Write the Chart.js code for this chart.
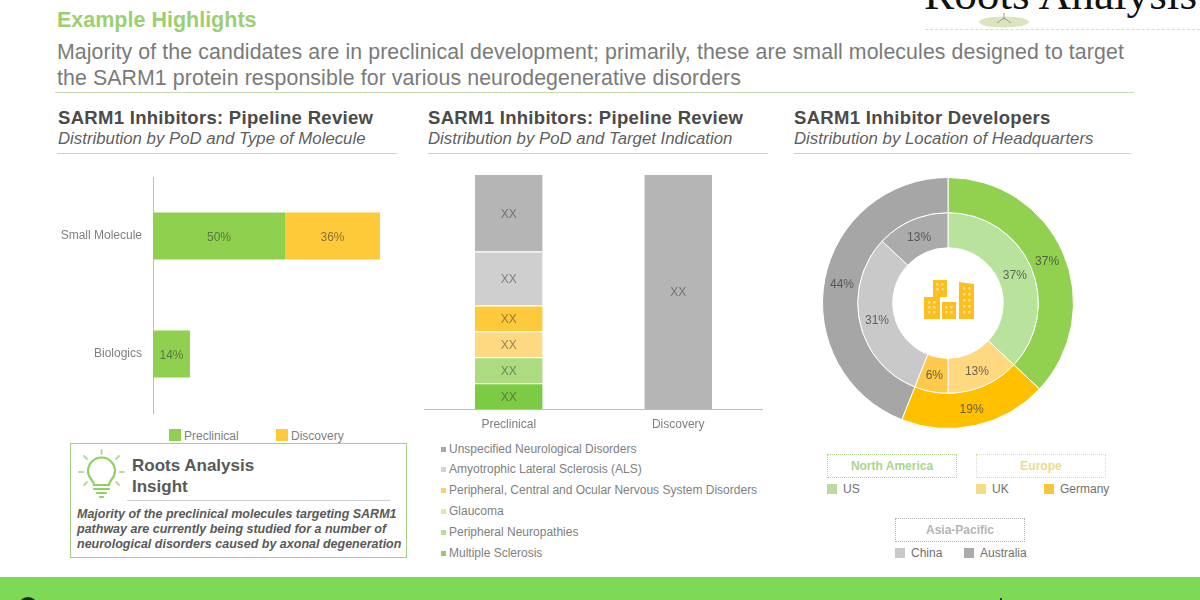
<!DOCTYPE html>
<html><head><meta charset="utf-8">
<script src="https://cdn.jsdelivr.net/npm/chart.js@4"></script>
<style>
html,body{margin:0;padding:0;background:#fff;overflow:hidden}
body{width:1200px;height:600px;position:relative;font-family:"Liberation Sans",Arial,sans-serif}
.t{position:absolute;white-space:nowrap;line-height:1}
canvas{position:absolute}
.rule{position:absolute;height:1px;background:#cfcfcf}
.sq{position:absolute}
.gbox{position:absolute;width:128px;height:22px;line-height:22px;text-align:center;font-weight:bold;font-size:12px;border:1px dotted}
svg{position:absolute}
.h{font-size:18.5px;font-weight:bold;color:#4a4a4a;letter-spacing:.3px;top:109px}
.i{font-size:16.8px;font-style:italic;color:#5f5f5f;top:131px}
.b{font-size:21.3px;color:#7a7a7a;letter-spacing:.1px}
.n{font-size:12.5px;font-weight:bold;font-style:italic;color:#595959;left:77px}
</style></head><body>
<div class="t" style="left:924px;top:-28px;font:45.3px 'Liberation Serif',serif;color:#111;line-height:1">Roots Analysis</div>
<svg style="left:975px;top:10px" width="60" height="22"><ellipse cx="29" cy="12" rx="25" ry="5.500" fill="#dbe4bf"/><path d="M29 3V10M29 8L22 13M29 8L36 13" stroke="#9aa286" stroke-width="1" fill="none"/></svg>
<div style="position:absolute;left:925px;top:29px;width:275px;border-top:1px dashed #d8d8d8"></div>
<div class="t" style="left:57px;top:10px;font-size:21.5px;font-weight:bold;color:#9ccf72">Example Highlights</div>
<div class="t b" style="left:57px;top:42px">Majority of the candidates are in preclinical development; primarily, these are small molecules designed to target</div>
<div class="t b" style="left:57px;top:68px">the SARM1 protein responsible for various neurodegenerative disorders</div>
<div class="rule" style="left:55px;top:92px;width:1079px;background:#c8dcae"></div>

<div class="t h" style="left:58px">SARM1 Inhibitors: Pipeline Review</div>
<div class="t i" style="left:58px">Distribution by PoD and Type of Molecule</div>
<div class="rule" style="left:57px;top:153px;width:340px"></div>
<div class="t h" style="left:428px">SARM1 Inhibitors: Pipeline Review</div>
<div class="t i" style="left:428px">Distribution by PoD and Target Indication</div>
<div class="rule" style="left:428px;top:153px;width:340px"></div>
<div class="t h" style="left:794px">SARM1 Inhibitor Developers</div>
<div class="t i" style="left:794px">Distribution by Location of Headquarters</div>
<div class="rule" style="left:794px;top:153px;width:337px"></div>

<canvas id="c1" style="left:40px;top:170px;width:377px;height:250px"></canvas>
<canvas id="c2" style="left:424px;top:168px;width:339px;height:270px"></canvas>
<canvas id="c3" style="left:818px;top:173px;width:260px;height:260px"></canvas>

<div id="legend1"></div><div id="legend2"></div><div id="legend3"></div>

<svg style="left:923px;top:279px" width="52" height="41" viewBox="0 0 52 41">
<rect x="10" y="1" width="14" height="17" fill="#fdbf1f"/>
<rect x="1" y="18" width="16" height="22" fill="#fdbf1f"/>
<rect x="19" y="23" width="14" height="17" fill="#fdbf1f"/>
<path d="M36 3L51 5V40H36Z" fill="#fdbf1f"/>
<g fill="#ffe08a"><rect x="13" y="4" width="2.500" height="2.500"/><rect x="18" y="4" width="2.500" height="2.500"/><rect x="13" y="9" width="2.500" height="2.500"/><rect x="18" y="9" width="2.500" height="2.500"/>
<rect x="5" y="22" width="2.500" height="2.500"/><rect x="10" y="22" width="2.500" height="2.500"/><rect x="5" y="27" width="2.500" height="2.500"/><rect x="10" y="27" width="2.500" height="2.500"/><rect x="5" y="32" width="2.500" height="2.500"/><rect x="10" y="32" width="2.500" height="2.500"/>
<rect x="22" y="27" width="2.500" height="2.500"/><rect x="27" y="27" width="2.500" height="2.500"/><rect x="22" y="32" width="2.500" height="2.500"/><rect x="27" y="32" width="2.500" height="2.500"/>
<rect x="40" y="8" width="2.500" height="2.500"/><rect x="45" y="8" width="2.500" height="2.500"/><rect x="40" y="14" width="2.500" height="2.500"/><rect x="45" y="14" width="2.500" height="2.500"/><rect x="40" y="20" width="2.500" height="2.500"/><rect x="45" y="20" width="2.500" height="2.500"/><rect x="40" y="26" width="2.500" height="2.500"/><rect x="45" y="26" width="2.500" height="2.500"/><rect x="40" y="32" width="2.500" height="2.500"/><rect x="45" y="32" width="2.500" height="2.500"/></g>
</svg>

<div style="position:absolute;left:70px;top:443px;width:335px;height:113px;border:1.5px solid #a3cf85"></div>
<svg style="left:74px;top:448px" width="56" height="56" fill="none" stroke-linecap="round">
<g stroke="#8fd160" stroke-width="2.2"><path d="M20 37C20 32 14 31 14 23A13.500 13.500 0 0 1 41 23C41 31 35 32 35 37Z"/>
<path d="M20 41H35M23 45H32M26 49H29"/></g>
<path stroke="#b5dc99" stroke-width="2" d="M27.500 2V6M10 8L13 11M45 8L42 11M5 24H9M46 24H50M10 37L13 34M45 37L42 34"/></svg>
<div class="t" style="left:132px;top:457px;font-size:17px;font-weight:bold;color:#595959">Roots Analysis</div>
<div class="t" style="left:132px;top:478px;font-size:17px;font-weight:bold;color:#595959">Insight</div>
<div class="rule" style="left:127px;top:500px;width:263px"></div>
<div class="t n" style="top:508px">Majority of the preclinical molecules targeting SARM1</div>
<div class="t n" style="top:523px">pathway are currently being studied for a number of</div>
<div class="t n" style="top:538px">neurological disorders caused by axonal degeneration</div>

<div style="position:absolute;left:0;top:577px;width:1200px;height:23px;background:#7ed957;overflow:hidden">
<div style="position:absolute;left:18px;top:20px;width:20px;height:20px;border-radius:50%;background:#1d2a1d"></div>
<div style="position:absolute;left:1000px;top:21px;width:2px;height:3px;background:#2d3a2d"></div>
</div>

<script>
// Chart 1: pipeline by type of molecule (percent)
const moleculeTypes = ["Small Molecule", "Biologics"];
const moleculePreclinical = [50, 14];
const moleculeDiscovery = [36, null];

// Chart 2: pipeline by target indication (segment shares; printed values are masked as XX)
const phases = ["Preclinical", "Discovery"];
const multipleSclerosis = [11, null];
const peripheralNeuropathies = [11, null];
const glaucoma = [11, null];
const nervousSystemDisorders = [11, null];
const alsDisorder = [23, null];
const unspecifiedDisorders = [33, 100];
const maskedLabel = "XX";

// Chart 3: developers by headquarters (percent)
const regions = ["North America", "Europe", "Asia-Pacific"];
const regionShare = [37, 19, 44];
const countries = ["US", "UK", "Germany", "China", "Australia"];
const countryShare = [37, 13, 6, 31, 13];

const FONT = "'Liberation Sans', Arial, sans-serif";
Chart.defaults.font.family = FONT;
Chart.defaults.animation = false;
Chart.defaults.responsive = false;
Chart.defaults.plugins.legend.display = false;
Chart.defaults.plugins.tooltip.enabled = false;

function valueLabels(textFor, color) {
  return {
    id: "valueLabels",
    afterDatasetsDraw(chart) {
      const ctx = chart.ctx;
      ctx.save();
      ctx.font = "12px " + FONT;
      ctx.textAlign = "center";
      ctx.textBaseline = "middle";
      ctx.fillStyle = color;
      chart.data.datasets.forEach((ds, di) => {
        chart.getDatasetMeta(di).data.forEach((el, i) => {
          if (ds.data[i] == null) return;
          const c = el.getCenterPoint();
          ctx.fillText(textFor(ds.data[i]), c.x, c.y + 1.5);
        });
      });
      ctx.restore();
    }
  };
}
function size(id, w, h) { const c = document.getElementById(id); c.width = w; c.height = h; return c; }

const GREEN = "#8fd14f", AMBER = "#ffca3a";
new Chart(size("c1", 377, 250), {
  type: "bar",
  data: { labels: moleculeTypes, datasets: [
    { label: "Preclinical", data: moleculePreclinical, backgroundColor: GREEN, categoryPercentage: .4, barPercentage: 1 },
    { label: "Discovery", data: moleculeDiscovery, backgroundColor: AMBER, categoryPercentage: .4, barPercentage: 1 }
  ]},
  options: {
    indexAxis: "y", devicePixelRatio: 1,
    layout: { padding: { top: 7, bottom: 7, left: 0, right: 0 } },
    scales: {
      x: { stacked: true, display: false, min: 0, max: 100 },
      y: { stacked: true, grid: { display: false, drawTicks: false }, border: { color: "#bdbdbd" },
           afterFit(s) { s.width = 113; s.paddingTop = 0; s.paddingBottom = 0; },
           ticks: { color: "#7f7f7f", font: { size: 12 }, padding: 11 } }
    }
  },
  plugins: [valueLabels(v => v + "%", "rgba(60,60,60,.62)")]
});

const indicationSets = [
  { label: "Multiple Sclerosis", data: multipleSclerosis, backgroundColor: "#7ccb45", key: "#9cc76f" },
  { label: "Peripheral Neuropathies", data: peripheralNeuropathies, backgroundColor: "#addb80", key: "#bcd9a0" },
  { label: "Glaucoma", data: glaucoma, backgroundColor: "#ffd981", key: "#f3e0a8" },
  { label: "Peripheral, Central and Ocular Nervous System Disorders", data: nervousSystemDisorders, backgroundColor: "#ffc93c", key: "#f2d27a" },
  { label: "Amyotrophic Lateral Sclerosis (ALS)", data: alsDisorder, backgroundColor: "#cfcfcf", key: "#d5d5d5" },
  { label: "Unspecified Neurological Disorders", data: unspecifiedDisorders, backgroundColor: "#b5b5b5", key: "#a8a8a8" }
];
new Chart(size("c2", 339, 270), {
  type: "bar",
  data: { labels: phases, datasets: indicationSets.map(s => ({
    label: s.label, data: s.data, backgroundColor: s.backgroundColor, categoryPercentage: .4, barPercentage: 1,
    borderColor: "#ffffff", borderWidth: { top: 1, bottom: 0, left: 0, right: 0 }, borderSkipped: false
  })) },
  options: {
    devicePixelRatio: 1,
    layout: { padding: { top: 6, bottom: 0, left: 0, right: 0 } },
    scales: {
      x: { stacked: true, grid: { display: false, drawTicks: false }, border: { color: "#bdbdbd" },
           afterFit(s) { s.height = 29; },
           ticks: { color: "#7f7f7f", font: { size: 12 }, padding: 8, maxRotation: 0 } },
      y: { stacked: true, display: false, min: 0, max: 100 }
    }
  },
  plugins: [valueLabels(() => maskedLabel, "rgba(60,60,60,.55)")]
});

const regionColors = ["#92d050", "#ffc000", "#a6a6a6"];
const countryColors = ["#b9e29c", "#ffd87f", "#ffc94b", "#c9c9c9", "#ababab"];
new Chart(size("c3", 260, 260), {
  type: "doughnut",
  data: { labels: countries, datasets: [
    { label: "Region", data: regionShare, backgroundColor: regionColors, borderColor: "#fff", borderWidth: 1 },
    { label: "Country", data: countryShare, backgroundColor: countryColors, borderColor: "#fff", borderWidth: 1 }
  ]},
  options: { devicePixelRatio: 1, cutout: "44%", layout: { padding: 4 } },
  plugins: [valueLabels(v => v + "%", "rgba(60,60,60,.75)")]
});

// HTML legends built from the same labels
function addText(host, txt, x, y, color) {
  const d = document.createElement("div");
  d.className = "t"; d.textContent = txt;
  d.style.cssText = `left:${x}px;top:${y - 6}px;font-size:12px;color:${color}`;
  host.appendChild(d);
}
function addSquare(host, x, y, s, color) {
  const d = document.createElement("div");
  d.className = "sq";
  d.style.cssText = `left:${x}px;top:${y - s / 2}px;width:${s}px;height:${s}px;background:${color}`;
  host.appendChild(d);
}
const l1 = document.getElementById("legend1");
addSquare(l1, 169, 435, 12, GREEN); addText(l1, "Preclinical", 184, 436, "#7f7f7f");
addSquare(l1, 276, 435, 12, AMBER); addText(l1, "Discovery", 291, 436, "#7f7f7f");

const l2 = document.getElementById("legend2");
const rowY = [553, 532, 511, 490, 469, 449];
indicationSets.forEach((s, i) => {
  addSquare(l2, 441, rowY[i], 5, s.key);
  addText(l2, s.label, 449, rowY[i], "#808080");
});

const l3 = document.getElementById("legend3");
function regionBox(txt, x, y, color) {
  const d = document.createElement("div");
  d.className = "gbox"; d.textContent = txt;
  d.style.cssText = `left:${x}px;top:${y}px;color:${color};border-color:${color}`;
  l3.appendChild(d);
}
regionBox(regions[0], 827, 454, "#a9d68c");
regionBox(regions[1], 976, 454, "#ecdc86");
regionBox(regions[2], 895, 518, "#b5b5b5");
const countryX = [827, 976, 1044, 895, 964];
const countryY = [489, 489, 489, 553, 553];
const keyColors = ["#bcd9a0", "#f6dc84", "#f7c63f", "#c9c9c9", "#ababab"];
countries.forEach((c, i) => {
  addSquare(l3, countryX[i], countryY[i], 10, keyColors[i]);
  addText(l3, c, countryX[i] + 16, countryY[i], "#707070");
});
</script>
</body></html>
